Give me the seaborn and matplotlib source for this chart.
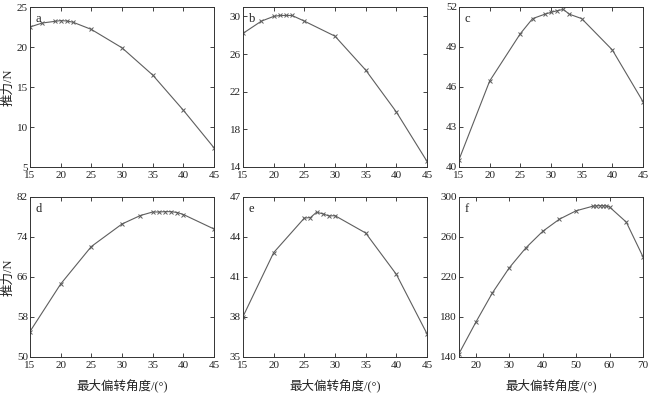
import matplotlib
matplotlib.use("Agg")
import matplotlib.pyplot as plt
import seaborn as sns
import pandas as pd

# ---- data ----
a_x = [15, 17, 19, 20, 21, 22, 25, 30, 35, 40, 45]
a_y = [22.5, 23.0, 23.2, 23.3, 23.25, 23.1, 22.2, 19.9, 16.5, 12.1, 7.4]

b_x = [15, 18, 20, 21, 22, 23, 25, 30, 35, 40, 45]
b_y = [28.2, 29.5, 30.0, 30.1, 30.1, 30.1, 29.5, 27.9, 24.3, 19.85, 14.6]

c_x = [15, 20, 25, 27, 29, 30, 31, 32, 33, 35, 40, 45]
c_y = [40.55, 46.45, 50.0, 51.13, 51.46, 51.6, 51.72, 51.82, 51.46, 51.13, 48.78, 44.9]

d_x = [15, 20, 25, 30, 33, 35, 36, 37, 38, 39, 40, 45]
d_y = [55.1, 64.6, 72.1, 76.6, 78.3, 79.0, 79.0, 79.07, 79.07, 78.9, 78.5, 75.6]

e_x = [15, 20, 25, 26, 27, 28, 29, 30, 35, 40, 45]
e_y = [38.03, 42.83, 45.42, 45.46, 45.86, 45.74, 45.58, 45.6, 44.3, 41.2, 36.74]

f_x = [15, 20, 25, 30, 35, 40, 45, 50, 55, 56, 57, 58, 59, 60, 65, 70]
f_y = [143.4, 174.6, 204.2, 229.1, 249.2, 265.6, 277.8, 286.2, 290.8, 291.1,
       291.3, 291.3, 291.1, 290.0, 274.9, 240.2]

panel_letters = ["a", "b", "c", "d", "e", "f"]
ylims = [(5, 25), (14, 31), (40, 52), (50, 82), (35, 47), (140, 300)]
yticks = [[5, 10, 15, 20, 25], [14, 18, 22, 26, 30], [40, 43, 46, 49, 52],
          [50, 58, 66, 74, 82], [35, 38, 41, 44, 47], [140, 180, 220, 260, 300]]
xlims = [(15, 45)] * 5 + [(15, 70)]
xticks = [[15, 20, 25, 30, 35, 40, 45]] * 5 + [[20, 30, 40, 50, 60, 70]]
ylabel = "推力/N"
xlabel = "最大偏转角度/(°)"

series = [(a_x, a_y), (b_x, b_y), (c_x, c_y), (d_x, d_y), (e_x, e_y), (f_x, f_y)]

# ---- style ----
sns.set_style("ticks")
plt.rcParams["font.family"] = ["Liberation Serif", "Noto Sans CJK SC", "DejaVu Sans"]
plt.rcParams["axes.unicode_minus"] = False

fig = plt.figure(figsize=(6.5, 3.93), dpi=100)
W, H = 650, 393
lefts = [30, 243, 459]
width = 184
tops = [7, 197]
height = 160

line_col = "#5e5e5e"
edge_col = "#333333"
text_col = "#222222"

for i, (xs, ys) in enumerate(series):
    r, c = divmod(i, 3)
    ax = fig.add_axes([lefts[c] / W, 1 - (tops[r] + height) / H, width / W, height / H])
    df = pd.DataFrame({"x": xs, "y": ys})
    sns.lineplot(data=df, x="x", y="y", ax=ax, color=line_col, linewidth=0.8,
                 marker="x", markersize=3.5, markeredgewidth=0.7,
                 markeredgecolor=line_col, markerfacecolor=line_col)
    ax.set_xlim(*xlims[i])
    ax.set_ylim(*ylims[i])
    ax.set_xticks(xticks[i])
    ax.set_yticks(yticks[i])
    ax.tick_params(direction="in", length=3, width=0.6, top=True, right=True,
                   labelsize=8, colors=text_col)
    ax.tick_params(axis="x", pad=3)
    ax.tick_params(axis="y", pad=1.5)
    for s in ax.spines.values():
        s.set_color(edge_col)
        s.set_linewidth(0.7)
    ax.set_xlabel("")
    ax.set_ylabel("")
    ax.text(0.03, 0.96, panel_letters[i], transform=ax.transAxes, ha="left", va="top",
            fontsize=9, color=text_col)
    if c == 0:
        ax.set_ylabel(ylabel, fontsize=9, color=text_col)
        ax.yaxis.set_label_coords(-0.082, 0.5)
    if r == 1:
        ax.set_xlabel(xlabel, fontsize=9, labelpad=6, color=text_col)

fig.savefig("out.png", dpi=100)
